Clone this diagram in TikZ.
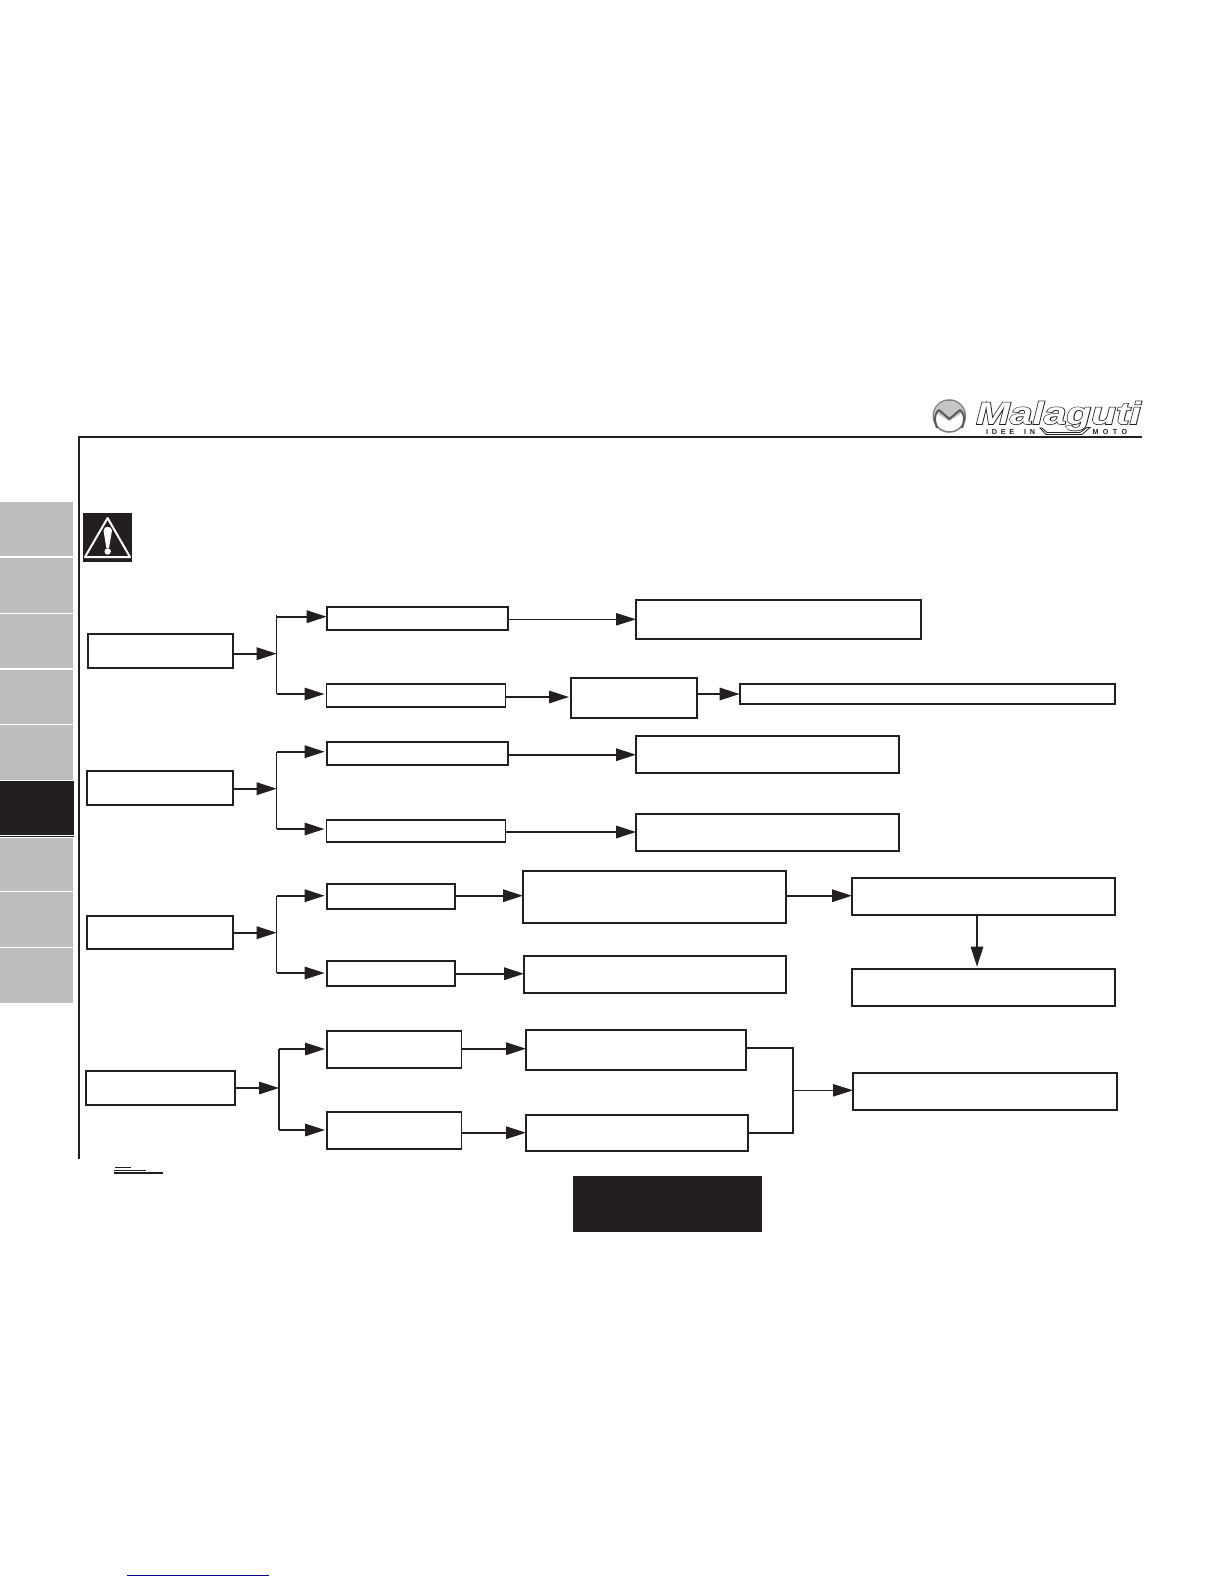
\documentclass[tikz,border=0pt]{standalone}
\usepackage{fontspec}
\usetikzlibrary{arrows.meta}
\newfontfamily\logofont{Liberation Sans}
\newfontfamily\logofat[FakeBold=4]{Liberation Sans}
\definecolor{ink}{HTML}{231F20}
\definecolor{tabgray}{HTML}{BDBDBD}
\tikzset{
  wh/.style 2 args={minimum width=#1*0.5bp,minimum height=#2*0.5bp},
  flowbox/.style={draw=ink,line width=0.85bp,fill=white,rectangle,inner sep=0pt,outer sep=0pt},
  wire/.style={draw=ink,line width=0.95bp},
  thinwire/.style={draw=ink,line width=0.5bp},
  arr/.style={wire,-{Triangle[length=10bp,width=6.2bp]}},
  thinarr/.style={thinwire,-{Triangle[length=10bp,width=6.2bp]}},
  gap/.style={shorten >=1bp},
  tabbox/.style={fill=tabgray},
  logotxt/.style={inner sep=0pt,outer sep=0pt},
}
\begin{document}
\begin{tikzpicture}[x=0.5bp,y=-0.5bp]
\useasboundingbox (0,0) rectangle (1224,1584);
% side tabs
\fill[tabbox] (0,502) rectangle (73,556);
\fill[tabbox] (0,557.5) rectangle (73,612.5);
\fill[tabbox] (0,614) rectangle (73,668);
\fill[tabbox] (0,669.5) rectangle (73,724);
\fill[tabbox] (0,725) rectangle (73,780);
\fill[ink] (0,781) rectangle (74,835);
\fill[ink] (0,835.8) rectangle (74,836.4);
\fill[tabbox] (0,837.5) rectangle (73,890.7);
\fill[tabbox] (0,892) rectangle (73,946.5);
\fill[tabbox] (0,948) rectangle (73,1003);
% page frame
\draw[ink,line width=1bp] (79,1158.7) -- (79,437) -- (1141.7,437);
% warning sign
\fill[ink] (83,513) rectangle (132,561.7);
\draw[white,line width=1bp,line join=round] (107.6,518) -- (130,557) -- (85,557) -- cycle;
\fill[white] (103.5,530.5) .. controls (104,525.5) and (111.5,525.5) .. (112,530.5) -- (109,548) -- (106.4,548) -- cycle;
\fill[white] (107.7,551.5) circle (3.2);
% logo
\draw[gray,line width=0.8bp,fill=white] (949.3,416) circle (16);
\fill[gray!45] (934.5,412) .. controls (938,397) and (960,397) .. (964,412) -- (949.3,421) -- cycle;
\draw[gray!70!black,line width=1bp,line join=round] (937,428) .. controls (933,417) and (936,412) .. (939,410) -- (949.3,419) -- (960,410) .. controls (963,412) and (966,417) .. (962,428);
\node[logotxt,text=ink,xscale=1.36,yscale=1.05,transform shape] (logoback) at (1058.5,416) {\logofat\itshape\bfseries\fontsize{15}{15}\selectfont Malaguti};
\node[logotxt,text=white,xscale=1.36,yscale=1.05,transform shape] (logofront) at (1058.5,416) {\logofont\itshape\bfseries\fontsize{15}{15}\selectfont Malaguti};
\node[logotxt,text=ink,anchor=west] (logoidee) at (986,432) {\logofont\bfseries\fontsize{3.6}{4}\selectfont I\hspace{1.9pt}D\hspace{1.9pt}E\hspace{1.9pt}E\hspace{5pt}I\hspace{1.9pt}N};
\node[logotxt,text=ink,anchor=west] (logomoto) at (1092.5,432) {\logofont\bfseries\fontsize{3.6}{4}\selectfont M\hspace{2.2pt}O\hspace{2.2pt}T\hspace{2.2pt}O};
\draw[ink,line width=0.4bp] (1040,428) -- (1046,434.5) -- (1082,434.5) -- (1090,427.5) -- (1087,427.5) -- (1080,432.5) -- (1047,432.5) -- (1042,428) -- cycle;
% boxes
\node[flowbox,wh={145.6}{34}] (R1) at (160.5,651) {};
\node[flowbox,wh={181.6}{23.3}] (A1) at (417.5,618.35) {};
\node[flowbox,wh={179}{23}] (A2) at (416,695.5) {};
\node[flowbox,wh={285.3}{38.7}] (C1) at (778.65,619.65) {};
\node[flowbox,wh={126.3}{40}] (C2) at (634.15,698) {};
\node[flowbox,wh={375.6}{20}] (D) at (927.5,694) {};
\node[flowbox,wh={146.6}{34}] (R2) at (160,788) {};
\node[flowbox,wh={181.6}{23}] (B1) at (417.5,753.5) {};
\node[flowbox,wh={179}{22}] (B2) at (416,831) {};
\node[flowbox,wh={263.3}{37}] (E1) at (767.65,754.5) {};
\node[flowbox,wh={263.3}{37}] (E2) at (767.65,832.5) {};
\node[flowbox,wh={146.6}{33.6}] (R3) at (160,932.5) {};
\node[flowbox,wh={128.3}{25}] (F1) at (390.85,896.5) {};
\node[flowbox,wh={128.3}{25.3}] (F2) at (390.85,973.35) {};
\node[flowbox,wh={263}{52}] (G1) at (654.5,896.7) {};
\node[flowbox,wh={262}{37}] (G2) at (655,974.5) {};
\node[flowbox,wh={263}{37}] (H1) at (983.5,896.5) {};
\node[flowbox,wh={263}{37}] (H2) at (983.5,987.2) {};
\node[flowbox,wh={149.3}{34}] (R4) at (160.35,1088) {};
\node[flowbox,wh={134.5}{36.7}] (I1) at (394.25,1049.35) {};
\node[flowbox,wh={134.5}{37.3}] (I2) at (394.25,1130.65) {};
\node[flowbox,wh={220}{40}] (J1) at (636,1050) {};
\node[flowbox,wh={222.3}{36}] (J2) at (637.15,1133) {};
\node[flowbox,wh={264.3}{37.6}] (K) at (985.15,1091.5) {};
\node[fill=ink,rectangle,inner sep=0pt,outer sep=0pt,wh={189}{55.7}] (blackbox) at (667.5,1203.85) {};
% junction points
\coordinate (jA) at (276.7,653.7);
\coordinate (tA) at (276.7,616.7);
\coordinate (bA) at (276.7,694);
\coordinate (jB) at (276.7,788.7);
\coordinate (tB) at (276.7,751.7);
\coordinate (bB) at (276.7,829);
\coordinate (jC) at (276.7,932.7);
\coordinate (tC) at (276.7,895.7);
\coordinate (bC) at (276.7,973);
\coordinate (jD) at (279,1088);
\coordinate (tD) at (279,1049);
\coordinate (bD) at (279,1130);
\coordinate (mJ) at (793,1090.3);
% group 1
\draw[arr] (jA -| R1.east) -- (jA);
\draw[thinwire,line width=0.65bp] (276.7,614.5) -- (bA);
\draw[arr] (tA) -- (tA -| A1.west);
\draw[arr,gap] (bA) -- (bA -| A2.west);
\draw[thinarr] (A1.east |- 0,619.3) -- (C1.west |- 0,619.3);
\draw[arr,gap] (A2.east |- 0,697) -- (C2.west |- 0,697);
\draw[arr] (C2.east |- D.west) -- (D.west);
% group 2
\draw[arr] (jB -| R2.east) -- (jB);
\draw[thinwire,line width=0.65bp] (tB) -- (bB);
\draw[arr,gap] (tB) -- (tB -| B1.west);
\draw[arr,gap] (bB) -- (bB -| B2.west);
\draw[arr] (B1.east |- 0,754.7) -- (E1.west |- 0,754.7);
\draw[arr] (B2.east |- 0,832) -- (E2.west |- 0,832);
% group 3
\draw[arr] (jC -| R3.east) -- (jC);
\draw[thinwire,line width=0.65bp] (tC) -- (bC);
\draw[arr,gap] (tC) -- (tC -| F1.west);
\draw[arr,gap] (bC) -- (bC -| F2.west);
\draw[arr] (F1.east |- 0,895.7) -- (G1.west |- 0,895.7);
\draw[arr] (F2.east |- 0,973.7) -- (G2.west |- 0,973.7);
\draw[arr] (G1.east |- 0,895.7) -- (H1.west |- 0,895.7);
\draw[arr,gap] (H1.south -| 977,0) -- (H2.north -| 977,0);
% group 4
\draw[arr] (jD -| R4.east) -- (jD);
\draw[wire] (tD) -- (bD);
\draw[arr,gap] (tD) -- (tD -| I1.west);
\draw[arr,gap] (bD) -- (bD -| I2.west);
\draw[arr] (I1.east |- 0,1048.7) -- (J1.west |- 0,1048.7);
\draw[arr] (I2.east |- 0,1132.7) -- (J2.west |- 0,1132.7);
\draw[wire] (J1.east |- 0,1048) -| (mJ) |- (J2.east |- 0,1133);
\draw[thinarr] (mJ) -- (mJ -| K.west);
% stray rules below the frame
\draw[ink,line width=0.4bp] (115,1167) -- (131,1167);
\draw[ink,line width=0.5bp] (114,1170.4) -- (146,1170.4);
\draw[ink,line width=1bp] (114,1173) -- (163,1173);
\draw[blue!55!black,line width=0.5bp] (127,1575) -- (269,1575);
\end{tikzpicture}
\end{document}
